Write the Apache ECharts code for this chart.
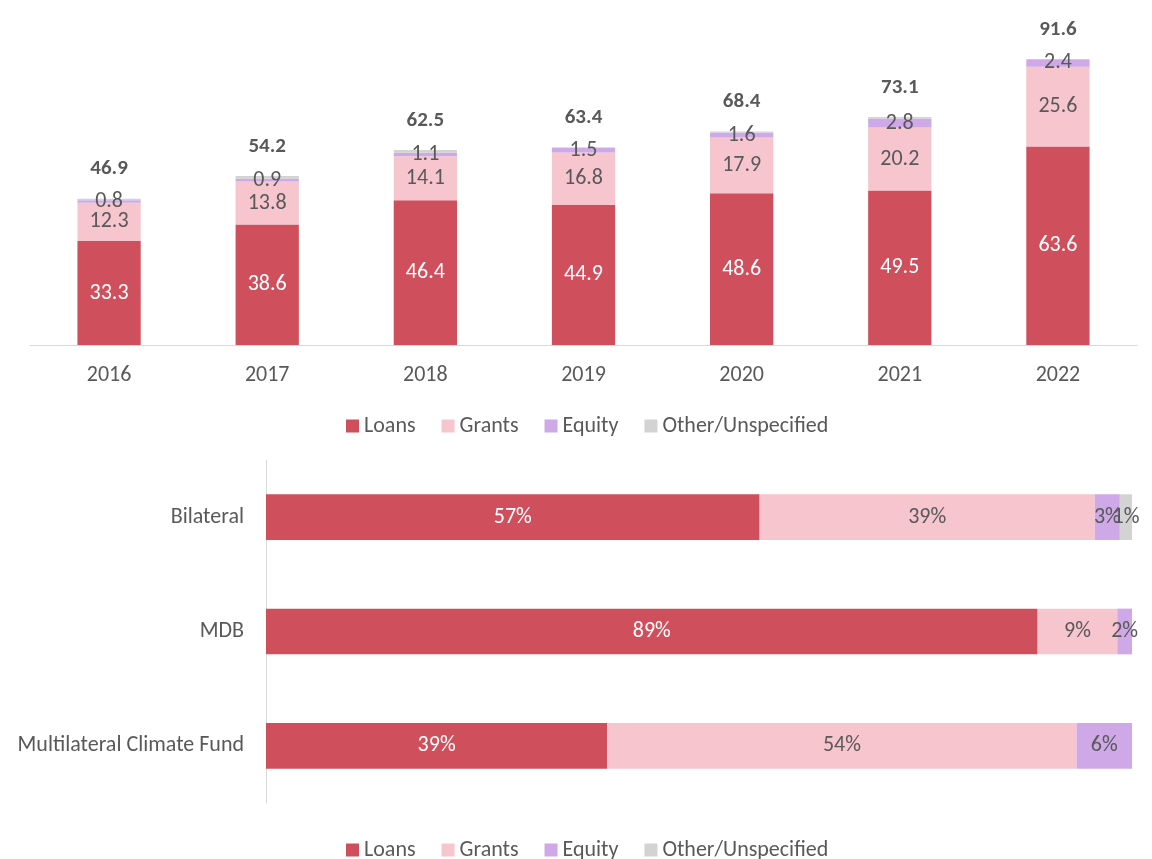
<!DOCTYPE html>
<html>
<head>
<meta charset="utf-8">
<script src="https://cdn.jsdelivr.net/npm/echarts@6/dist/echarts.min.js"></script>
<style>
  html, body { margin: 0; padding: 0; background: #fff; }
  #main { width: 1152px; height: 859px; }
</style>
</head>
<body>
<div id="main"></div>
<script>
// top chart: finance by year (USD bn)
var years = ['2016', '2017', '2018', '2019', '2020', '2021', '2022'];
var loans = [33.3, 38.6, 46.4, 44.9, 48.6, 49.5, 63.6];
var grants = [12.3, 13.8, 14.1, 16.8, 17.9, 20.2, 25.6];
var equity = [0.8, 0.9, 1.1, 1.5, 1.6, 2.8, 2.4];
var other = [0.5, 0.9, 0.9, 0.2, 0.3, 0.6, 0.0];
var totals = [46.9, 54.2, 62.5, 63.4, 68.4, 73.1, 91.6];

// bottom chart: share by channel (%)
var channels = ['Bilateral', 'MDB', 'Multilateral Climate Fund'];
var loansPct = [57.0, 89.1, 39.4];
var grantsPct = [38.7, 9.2, 54.2];
var equityPct = [2.9, 1.7, 6.4];
var otherPct = [1.4, 0, 0];

var names = ['Loans', 'Grants', 'Equity', 'Other/Unspecified'];
var colors = ['#cf4f5c', '#f7c5ce', '#cea8e7', '#d3d3d3'];
var font = 'Carlito, Calibri, "Liberation Sans", sans-serif';
var grey = '#595959';
var fs = 22;

var myChart = echarts.init(document.getElementById('main'));

function topSeries(name, data, color, labelColor, showLabel) {
  return {
    name: name, type: 'bar', stack: 'top', xAxisIndex: 0, yAxisIndex: 0,
    data: data, barWidth: '40%',
    itemStyle: { color: color },
    label: {
      show: showLabel, position: 'inside', color: labelColor,
      fontFamily: font, fontSize: fs
    }
  };
}

function bottomSeries(name, data, color, labelColor) {
  return {
    name: name, type: 'bar', stack: 'bottom', xAxisIndex: 1, yAxisIndex: 1,
    data: data, barWidth: '40%',
    itemStyle: { color: color },
    label: {
      show: true, position: 'inside', color: labelColor,
      fontFamily: font, fontSize: fs,
      formatter: function (p) { return p.value < 0.5 ? '' : Math.round(p.value) + '%'; }
    }
  };
}

var legendStyle = {
  data: names, left: 341, itemWidth: 13, itemHeight: 13, itemGap: 26,
  icon: 'rect',
  textStyle: { color: grey, fontFamily: font, fontSize: fs }
};

myChart.setOption({
  animation: false,
  color: colors,
  legend: [
    Object.assign({ top: 410 }, legendStyle),
    Object.assign({ top: 834 }, legendStyle)
  ],
  grid: [
    { left: 30, right: 15, top: 33, height: 312 },
    { left: 266, right: 20, top: 460, height: 343 }
  ],
  xAxis: [
    {
      gridIndex: 0, type: 'category', data: years,
      axisLine: { lineStyle: { color: '#d9d9d9' } },
      axisTick: { show: false },
      axisLabel: { color: grey, fontFamily: font, fontSize: fs, margin: 19 }
    },
    { gridIndex: 1, type: 'value', min: 0, max: 100, show: false }
  ],
  yAxis: [
    { gridIndex: 0, type: 'value', min: 0, max: 100, show: false },
    {
      gridIndex: 1, type: 'category', data: channels, inverse: true,
      axisLine: { lineStyle: { color: '#d9d9d9' } },
      axisTick: { show: false },
      axisLabel: { color: grey, fontFamily: font, fontSize: fs, margin: 22 }
    }
  ],
  series: [
    topSeries('Loans', loans, colors[0], '#fff', true),
    topSeries('Grants', grants, colors[1], grey, true),
    topSeries('Equity', equity, colors[2], grey, true),
    topSeries('Other/Unspecified', other, colors[3], grey, false),
    {
      name: 'Total', type: 'bar', xAxisIndex: 0, yAxisIndex: 0,
      data: totals, barWidth: '40%', barGap: '-100%', z: 1,
      itemStyle: { color: 'transparent' },
      label: {
        show: true, position: 'top', distance: 19, color: grey,
        fontFamily: font, fontSize: fs - 1, fontWeight: 'bold'
      }
    },
    bottomSeries('Loans', loansPct, colors[0], '#fff'),
    bottomSeries('Grants', grantsPct, colors[1], grey),
    bottomSeries('Equity', equityPct, colors[2], grey),
    bottomSeries('Other/Unspecified', otherPct, colors[3], grey)
  ]
});
</script>
</body>
</html>
